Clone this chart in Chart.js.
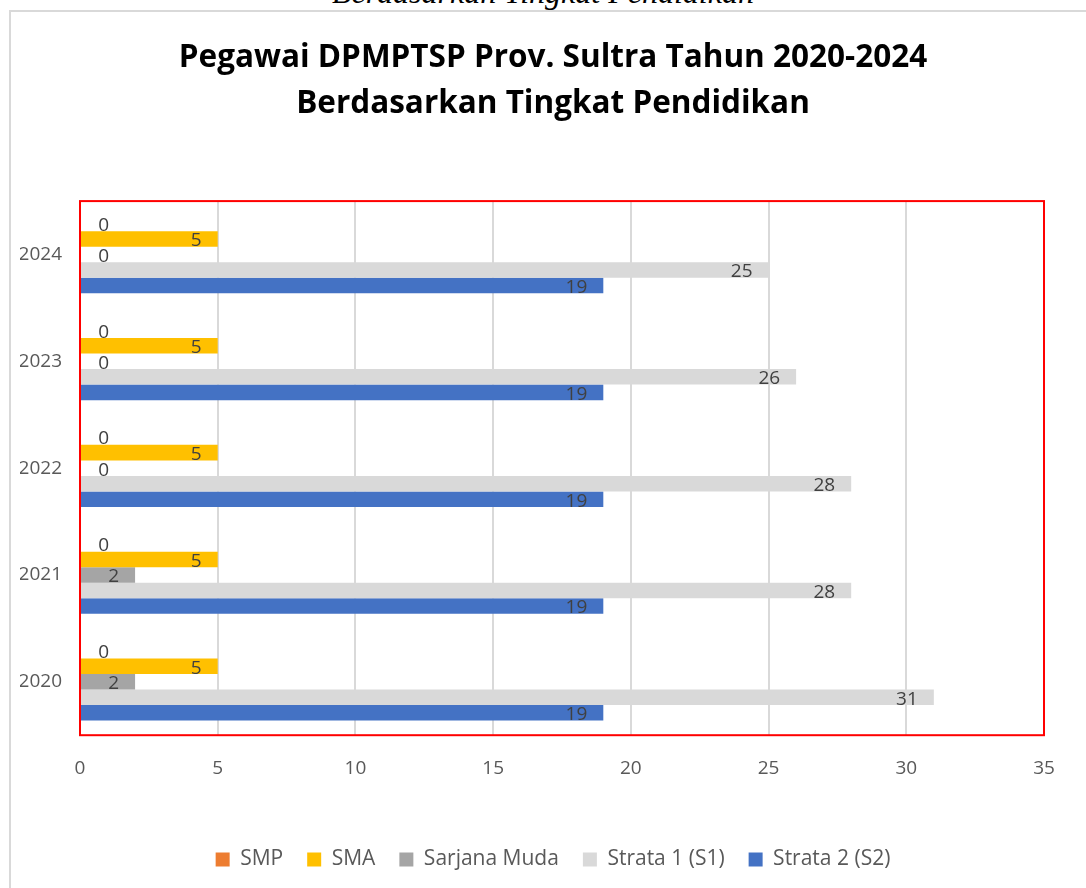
<!DOCTYPE html>
<html>
<head>
<meta charset="utf-8">
<script src="https://cdn.jsdelivr.net/npm/chart.js@4"></script>
<style>
  body { margin: 0; background: #fff; overflow: hidden; }
  #doc-caption {
    position: absolute; left: 0; width: 1086px; top: -24px;
    text-align: center; font: italic 32px "Liberation Serif", serif;
    line-height: 32px; color: #000;
  }
  #frame {
    position: absolute; left: 9px; top: 10px; width: 1200px; height: 1000px;
    border: 2px solid #d9d9d9; box-sizing: border-box;
  }
  #wrap { position: absolute; left: 0; top: 0; width: 1086px; height: 888px; }
</style>
</head>
<body>
<div id="doc-caption">Berdasarkan Tingkat Pendidikan</div>
<div id="frame"></div>
<div id="wrap"><canvas id="eduChart" width="1086" height="888"></canvas></div>
<script>
// Data
const years = ['2020', '2021', '2022', '2023', '2024'];
const smp = [0, 0, 0, 0, 0];
const sma = [5, 5, 5, 5, 5];
const sarjanaMuda = [2, 2, 0, 0, 0];
const strata1 = [31, 28, 28, 26, 25];
const strata2 = [19, 19, 19, 19, 19];
const xTicks = [0, 5, 10, 15, 20, 25, 30, 35];

const fontFamily = '"Open Sans", "Liberation Sans", sans-serif';

// Draws value labels near the end of each bar (like Excel "inside end")
const valueLabels = {
  id: 'valueLabels',
  afterDatasetsDraw(chart) {
    const ctx = chart.ctx;
    ctx.save();
    ctx.font = '19px ' + fontFamily;
    ctx.fillStyle = '#404040';
    ctx.textAlign = 'right';
    ctx.textBaseline = 'middle';
    chart.data.datasets.forEach((ds, i) => {
      const meta = chart.getDatasetMeta(i);
      meta.data.forEach((bar, j) => {
        const v = ds.data[j];
        const x = Math.max(bar.x - 16, bar.base + 29);
        ctx.fillText(String(v), x, bar.y + 2);
      });
    });
    ctx.restore();
  }
};

// Red frame round the plot area
const plotFrame = {
  id: 'plotFrame',
  afterDraw(chart) {
    const a = chart.chartArea;
    const ctx = chart.ctx;
    ctx.save();
    ctx.strokeStyle = '#ff0000';
    ctx.lineWidth = 2;
    ctx.strokeRect(a.left, a.top, a.right - a.left, a.bottom - a.top);
    ctx.restore();
  }
};

const data = {
  labels: years,
  datasets: [
    { label: 'SMP', data: smp, backgroundColor: '#ed7d31' },
    { label: 'SMA', data: sma, backgroundColor: '#ffc000' },
    { label: 'Sarjana Muda', data: sarjanaMuda, backgroundColor: '#a5a5a5' },
    { label: 'Strata 1 (S1)', data: strata1, backgroundColor: '#d9d9d9' },
    { label: 'Strata 2 (S2)', data: strata2, backgroundColor: '#4472c4' }
  ]
};

const options = {
  indexAxis: 'y',
  responsive: false,
  animation: false,
  datasets: { bar: { categoryPercentage: 0.727, barPercentage: 1.0 } },
  layout: { padding: { left: 20, right: 0, top: 0, bottom: 8 } },
  scales: {
    x: {
      min: 0, max: 35,
      afterBuildTicks(axis) { axis.ticks = xTicks.map(v => ({ value: v })); },
      afterFit(axis) { axis.height += 23; },
      grid: { color: '#d9d9d9', lineWidth: 2, drawTicks: false },
      border: { display: false },
      ticks: { padding: 22, color: '#595959', font: { family: fontFamily, size: 19 } }
    },
    y: {
      reverse: true,
      afterFit(axis) { axis.width = 60; },
      grid: { display: false, drawTicks: false },
      border: { display: false },
      ticks: { padding: 18, color: '#595959', font: { family: fontFamily, size: 19 } }
    },
    // empty right-hand margin so title and legend stay centred on the page
    yRight: {
      type: 'category',
      position: 'right',
      afterFit(axis) { axis.width = 42; },
      grid: { display: false, drawTicks: false },
      border: { display: false },
      ticks: { display: false }
    }
  },
  plugins: {
    title: {
      display: true,
      text: ['Pegawai DPMPTSP Prov. Sultra Tahun 2020-2024', 'Berdasarkan Tingkat Pendidikan'],
      color: '#000',
      font: { family: fontFamily, size: 31.5, weight: 'bold', lineHeight: 1.43 },
      padding: { top: 36, bottom: 75 }
    },
    legend: {
      position: 'bottom',
      labels: {
        boxWidth: 14, boxHeight: 14, padding: 24,
        color: '#595959', font: { family: fontFamily, size: 21 }
      }
    },
    tooltip: { enabled: false }
  }
};

const ctx = document.getElementById('eduChart').getContext('2d');
new Chart(ctx, { type: 'bar', data: data, options: options, plugins: [valueLabels, plotFrame] });
</script>
</body>
</html>
